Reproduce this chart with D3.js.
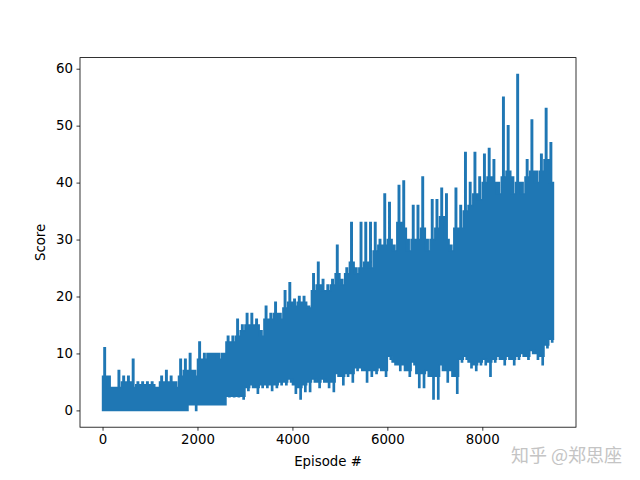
<!DOCTYPE html>
<html><head><meta charset="utf-8">
<script src="https://cdn.jsdelivr.net/npm/d3@7"></script>
<style>body{margin:0;background:#fff}svg{display:block}text{font-family:"DejaVu Sans",sans-serif}</style>
</head><body>
<svg id="c" width="640" height="480"></svg>
<script>
// Episodes are grouped in bins of 100 episodes
const binSize = 100;
const nEpisodes = 9500;
// highest score (peak spike) per bin
const scoreHigh = [11,6,4,7,6,6,9,5,5,5, 5,4,6,7,6,5,9,9,10,7,
  12,10,10,10,10,10,13,13,16,15, 17,17,16,14,18.3,17,19,17,21,22.4,
  19.5,20,20,18.3,24,26,23,22,23,29, 23,25,33,25,33,33,33,33,30,38,
  36.5,29,39.5,40.3,30,36,36,41,30,37, 37,39,38,29,39,36,45.3,40,45.3,41,
  45,46,44,40,55,50,41,59,40,44, 51,42,45,53,47];
// usual (dense) top of the band per bin
const scoreBody = [6,4,4,4,5,5,4,4.5,4.5,4.5, 4.5,4,5,5,5,4,6,7,7,6,
  9,9,10,10,9,10,12,12,13,14, 15,15,15,13,16,16,17,16,18,19,
  18.3,19,19,18,21,22,21,21,22,24, 22,24,26,24,25,26,25,28,29,29,
  30,28,33,32,28,30,30,32,28,30, 32,34,30,28,32,32,35,36,38,37,
  40,41,40,38,41,42,38,40,38,41, 42,40,42,44,40];
// usual (dense) bottom of the band per bin
const scoreLowBody = [0,0,0,0,0,0,0,0,0,0, 0,0,0,0,0,0,0,0,1,1,
  1,1,1,1,1,1,2.5,2.5,2.5,2.5, 4,4.5,4,4.5,4.5,4.5,4.5,5,5,5.5,
  4.5,4,4.5,5,5.5,5,5.5,5,5,6.5, 6,6.5,6.5,7.5,7.5,7,7,7,7.5,7,
  9.5,8.5,8,8,7,8.5,6.5,6.5,7,6, 6,8,7,7,6,9,9.5,8.5,8,8.5,
  9,8.5,9,9.5,9,9.5,9,9.5,10,9.5, 10.5,10,9.5,11.5,12.5];
// lowest score (downward spike) per bin
const scoreLow = [0,0,0,0,0,0,0,0,0,0, 0,0,0,0,0,0,0,0,1,0,
  1,1,1,1,1,1,2.4,2.4,2.4,2, 3.5,4,3,4,4,3.5,4,4.5,4.5,5,
  3,2,3.3,3.3,5,4,5,4,3.3,6, 4.5,6,5,7,7,5,6,6.5,7,6,
  9,8,7,7,6,8,4,4,6,2, 2,7,5,6,3,8.5,9,7.5,7,8,
  8,6,8.5,9,8,9,8,9,9.5,9, 10,9,8,11,12];
const xTicks = [0,2000,4000,6000,8000];
const yTicks = [0,10,20,30,40,50,60];

// each bin: dense body with one narrow peak and one narrow dip
const pts = [];
scoreHigh.forEach((h,i)=>{
  const e = i*binSize, b = Math.min(scoreBody[i], h);
  const lo = scoreLow[i], lb = Math.max(scoreLowBody[i], lo);
  pts.push({ep:e, top:b, lo:lb});
  pts.push({ep:e+30, top:h, lo:lb});
  pts.push({ep:e+60, top:b, lo:lo});
  pts.push({ep:e+85, top:b, lo:lb});
});
pts.push({ep:nEpisodes-1, top:scoreBody[scoreBody.length-1], lo:scoreLowBody[scoreLowBody.length-1]});

const L=80,R=576,T=57.6,B=427.2;
const xmax = nEpisodes-1, ymin=0, ymax=d3.max(scoreHigh);
const x = d3.scaleLinear().domain([-0.05*xmax, 1.05*xmax]).range([L,R]);
const yr = ymax-ymin;
const y = d3.scaleLinear().domain([ymin-0.05*yr, ymax+0.05*yr]).range([B,T]);

const svg = d3.select("#c");
const area = d3.area().x(d=>x(d.ep)).y0(d=>y(d.lo)).y1(d=>y(d.top)).curve(d3.curveStepAfter);
svg.append("path").datum(pts).attr("d",area)
  .attr("fill","#1f77b4").attr("stroke","#1f77b4").attr("stroke-width",1.5).attr("stroke-linejoin","miter");

// axes
const xa = svg.append("g").attr("transform",`translate(0,${B})`)
  .call(d3.axisBottom(x).tickValues(xTicks).tickFormat(d3.format("d")).tickSizeInner(3.5).tickSizeOuter(0).tickPadding(3.5));
const ya = svg.append("g").attr("transform",`translate(${L},0)`)
  .call(d3.axisLeft(y).tickValues(yTicks).tickFormat(d3.format("d")).tickSizeInner(3.5).tickSizeOuter(0).tickPadding(3.5));
[xa,ya].forEach(g=>{
  g.select(".domain").remove();
  g.selectAll(".tick line").attr("stroke","#000").attr("stroke-width",0.8);
  g.selectAll(".tick text").attr("fill","#000").style("font-size","13.33px").style("font-family","DejaVu Sans");
});
svg.append("rect").attr("x",L).attr("y",T).attr("width",R-L).attr("height",B-T)
  .attr("fill","none").attr("stroke","#000").attr("stroke-width",0.8);

svg.append("text").attr("x",(L+R)/2).attr("y",466).attr("text-anchor","middle")
  .style("font-size","13.33px").text("Episode #");
svg.append("text").attr("transform",`translate(45,${(T+B)/2}) rotate(-90)`).attr("text-anchor","middle")
  .style("font-size","13.33px").text("Score");

svg.append("text").attr("x",622).attr("y",462).attr("text-anchor","end")
  .style("font-family","'Noto Sans CJK SC',sans-serif").style("font-size","18px")
  .attr("fill","#c4c4c4").text("知乎 @郑思座");
</script>
</body></html>
